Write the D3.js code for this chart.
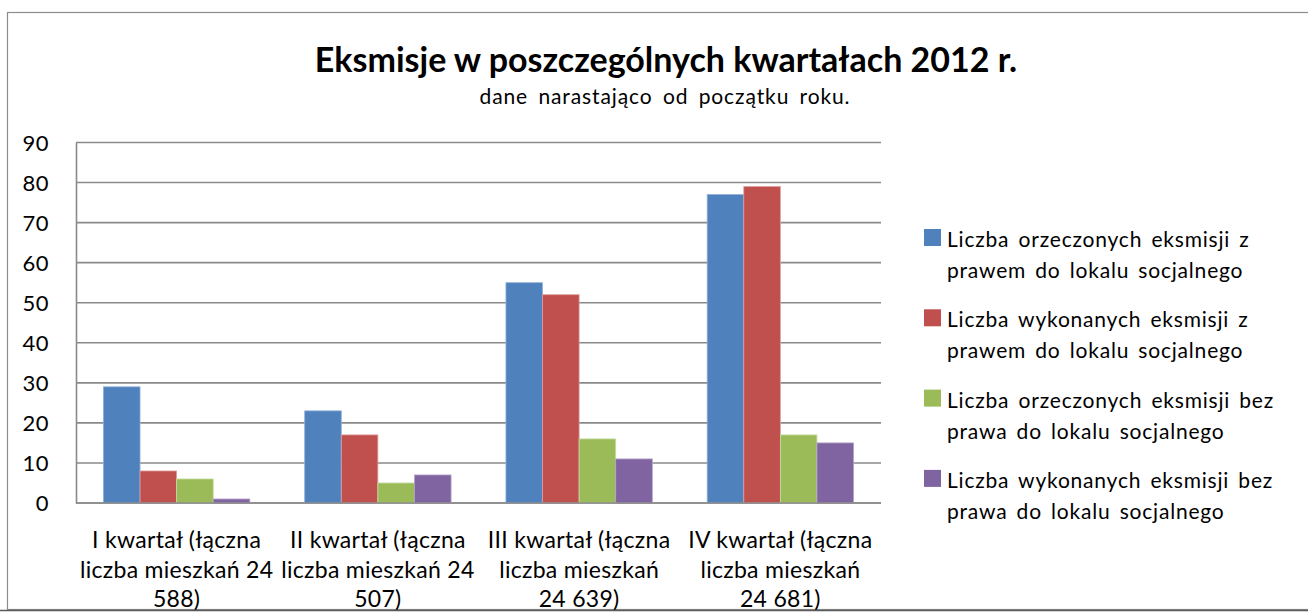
<!DOCTYPE html>
<html>
<head>
<meta charset="utf-8">
<script src="https://cdn.jsdelivr.net/npm/d3@7"></script>
<style>
  html, body { margin: 0; padding: 0; background: #fff; }
  svg { display: block; }
  text { font-family: Lato, "Open Sans", sans-serif; fill: #000; }
</style>
</head>
<body>
<svg id="chart" width="1308" height="614"></svg>
<script>
// quarters, each label already broken into its lines
const categories = [
    ['I kwartał (łączna', 'liczba mieszkań 24', '588)'],
    ['II kwartał (łączna', 'liczba mieszkań 24', '507)'],
    ['III kwartał (łączna', 'liczba mieszkań', '24 639)'],
    ['IV kwartał (łączna', 'liczba mieszkań', '24 681)']
];

const seriesNames = [
    ['Liczba orzeczonych eksmisji z', 'prawem do lokalu socjalnego'],
    ['Liczba wykonanych eksmisji z', 'prawem do lokalu socjalnego'],
    ['Liczba orzeczonych eksmisji bez', 'prawa do lokalu socjalnego'],
    ['Liczba wykonanych eksmisji bez', 'prawa do lokalu socjalnego']
];

const orzeczoneZ = [29, 23, 55, 77];
const wykonaneZ = [8, 17, 52, 79];
const orzeczoneBez = [6, 5, 16, 17];
const wykonaneBez = [1, 7, 11, 15];

const yTicks = [0, 10, 20, 30, 40, 50, 60, 70, 80, 90];

const colors = ['#4f81bd', '#c0504d', '#9bbb59', '#8064a2'];
const edges = ['#8fb0d8', '#e0a09e', '#c8dca6', '#b3a2c8'];

const seriesValues = [orzeczoneZ, wykonaneZ, orzeczoneBez, wykonaneBez];

const svg = d3.select('#chart');

const plot = { left: 76, right: 881, top: 142.5, bottom: 503 };

// outer chart frame (right side runs off the picture)
svg.append('rect')
    .attr('x', 7.5)
    .attr('y', 12.5)
    .attr('width', 1340)
    .attr('height', 597)
    .attr('fill', '#fff')
    .attr('stroke', '#8c8c8c')
    .attr('stroke-width', 1.2);

svg.append('text')
    .attr('x', 666)
    .attr('y', 72)
    .attr('text-anchor', 'middle')
    .style('font-size', '34px')
    .style('font-weight', 'bold')
    .text('Eksmisje w poszczególnych kwartałach 2012 r.');

svg.append('text')
    .attr('x', 665)
    .attr('y', 104)
    .attr('text-anchor', 'middle')
    .style('font-size', '21px')
    .style('letter-spacing', '0.9px')
    .style('word-spacing', '4px')
    .text('dane narastająco od początku roku.');

const x0 = d3.scaleBand()
    .domain(d3.range(categories.length))
    .range([plot.left, plot.right]);

const x1 = d3.scaleBand()
    .domain(d3.range(seriesValues.length))
    .range([0, x0.bandwidth()])
    .paddingInner(0)
    .paddingOuter(0.75);

const y = d3.scaleLinear()
    .domain([0, 90])
    .range([plot.bottom, plot.top]);

// gridlines
svg.append('g')
    .selectAll('line')
    .data(yTicks)
    .enter()
    .append('line')
    .attr('x1', plot.left)
    .attr('x2', plot.right)
    .attr('y1', d => y(d))
    .attr('y2', d => y(d))
    .attr('stroke', '#8a8a8a')
    .attr('stroke-width', 1.6);

// value axis
const yAxis = svg.append('g')
    .attr('transform', `translate(${plot.left},0)`)
    .call(d3.axisLeft(y).tickValues(yTicks).tickSize(0).tickPadding(27));

yAxis.select('.domain')
    .attr('stroke', '#8a8a8a')
    .attr('stroke-width', 1.6);

yAxis.selectAll('text')
    .style('font-family', 'Lato, sans-serif')
    .style('font-size', '22px')
    .style('letter-spacing', '0.5px')
    .attr('dy', '0.36em')
    .attr('fill', '#000');

// bars
const groups = svg.append('g')
    .selectAll('g')
    .data(categories)
    .enter()
    .append('g')
    .attr('transform', (d, i) => `translate(${x0(i)},0)`);

groups.selectAll('rect')
    .data((d, i) => seriesValues.map((vals, s) => ({ s: s, v: vals[i] })))
    .enter()
    .append('rect')
    .attr('x', d => x1(d.s))
    .attr('y', d => y(d.v))
    .attr('width', x1.bandwidth())
    .attr('height', d => y(0) - y(d.v))
    .attr('fill', d => colors[d.s])
    .attr('stroke', d => edges[d.s])
    .attr('stroke-width', 0.8);

// category axis line on top of the bars
svg.append('line')
    .attr('x1', plot.left)
    .attr('x2', plot.right)
    .attr('y1', y(0))
    .attr('y2', y(0))
    .attr('stroke', '#8a8a8a')
    .attr('stroke-width', 1.6);

// category labels
const catLabels = svg.append('g')
    .selectAll('text')
    .data(categories)
    .enter()
    .append('text')
    .attr('text-anchor', 'middle')
    .style('font-size', '23px')
    .style('letter-spacing', '0.3px')
    .attr('x', (d, i) => x0(i) + x0.bandwidth() / 2)
    .attr('y', 548);

catLabels.selectAll('tspan')
    .data(d => d)
    .enter()
    .append('tspan')
    .attr('x', function() { return d3.select(this.parentNode).attr('x'); })
    .attr('dy', (d, i) => i === 0 ? 0 : 29.5)
    .text(d => d);

// bottom edge line crossing the last label line
svg.append('line')
    .attr('x1', 0)
    .attr('x2', 1308)
    .attr('y1', 610.5)
    .attr('y2', 610.5)
    .attr('stroke', '#5a5a5a')
    .attr('stroke-width', 1.4);

// legend
const legend = svg.append('g')
    .selectAll('g')
    .data(seriesNames)
    .enter()
    .append('g')
    .attr('transform', (d, i) => `translate(924,${229 + i * 80.3})`);

legend.append('rect')
    .attr('width', 17)
    .attr('height', 17)
    .attr('fill', (d, i) => colors[i]);

legend.append('text')
    .attr('x', 23)
    .attr('y', 18)
    .style('font-size', '21px')
    .style('letter-spacing', '0.8px')
    .style('word-spacing', '3px')
    .selectAll('tspan')
    .data(d => d)
    .enter()
    .append('tspan')
    .attr('x', 23)
    .attr('dy', (d, i) => i === 0 ? 0 : 31)
    .text(d => d);
</script>
</body>
</html>
